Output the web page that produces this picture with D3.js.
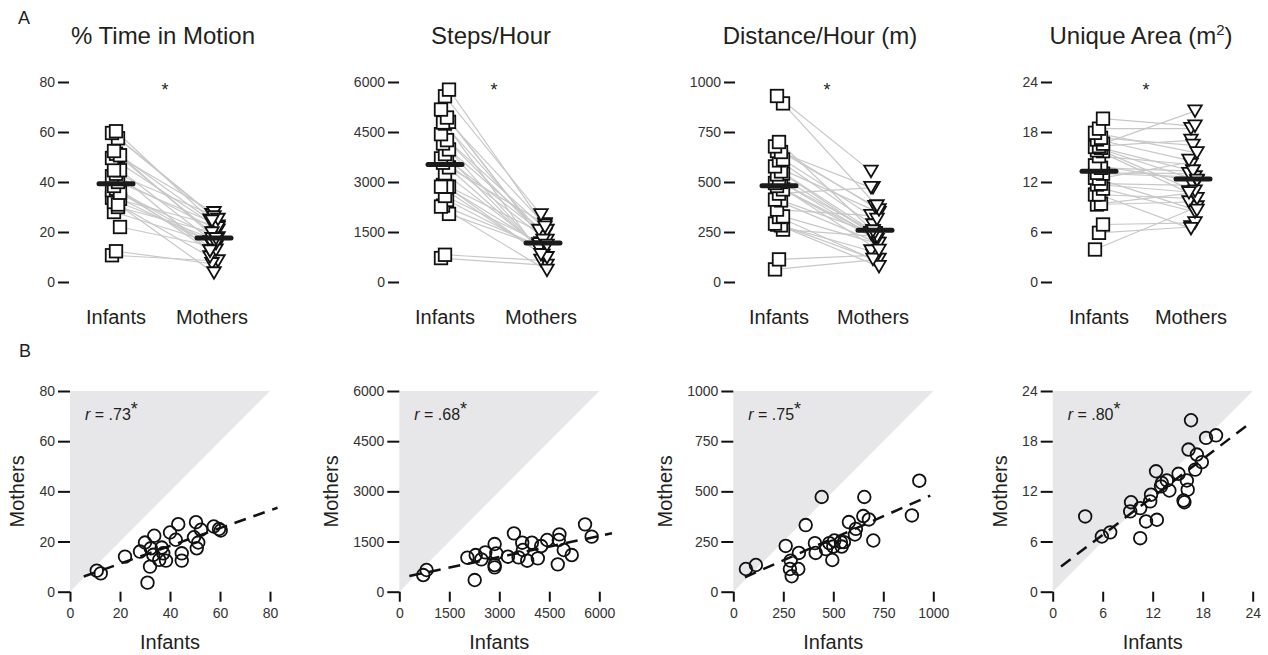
<!DOCTYPE html>
<html><head><meta charset="utf-8">
<script src="https://cdn.jsdelivr.net/npm/d3@7"></script>
<style>
body{margin:0;background:#fff;}
svg{font-family:"Liberation Sans",Arial,sans-serif;display:block;}
</style></head>
<body><svg id="c" width="1268" height="655"></svg>
<script>
// ---------- DATA ----------
const titles = ["% Time in Motion", "Steps/Hour", "Distance/Hour (m)", "Unique Area (m²)"];
const groups = ["Infants", "Mothers"];
const yMax = [80, 6000, 1000, 24];
const tickStep = [20, 1500, 250, 6];
const rLabels = [".73", ".68", ".75", ".80"];

const timeInfants = [10.7,12.3,22,28,30,33.7,32.3,33.3,32,31,36.7,37.3,35.7,38.4,40,42.3,43.3,44.7,44.7,50.4,49.6,51.3,50.7,52.4,57.5,59.6,60.3];
const timeMothers = [8.4,7.3,14,16,19.6,22.3,17.3,14.7,10,3.6,17.6,15.3,12.7,12.4,23.6,20.7,26.9,15.3,12.4,27.7,21.7,19.6,17.3,24.7,26,25,24.4];

const stepsInfants = [718,817,2043,2292,2462,2262,2581,2860,2910,2860,2860,3259,3439,3578,3688,3708,3837,3977,4156,4256,4435,4754,4804,4784,4934,5173,5572,5771];
const stepsMothers = [498,648,1017,1096,967,349,1176,1425,1146,797,728,1046,1744,1027,1465,1246,927,1465,997,1365,1545,817,1714,1545,1246,1096,2013,1645];

const distInfants = [63,113,262,287,283,292,325,328,362,408,412,442,463,480,500,495,505,542,538,553,578,608,613,655,650,678,700,893,930];
const distMothers = [113,133,228,155,113,77,113,193,332,242,193,472,212,242,225,158,255,225,247,247,347,285,313,472,377,360,255,380,553];

const areaInfants = [3.9,5.9,6.9,9.3,9.4,10.5,10.5,11.2,11.7,11.8,12.5,12.4,13,13.1,13.7,14,15.1,15.7,15.8,16.1,16.2,16.3,16.6,17.1,17.3,17.9,18.4,19.6];
const areaMothers = [9.0,6.6,7.1,9.6,10.7,10.0,6.4,8.4,10.8,11.6,8.6,14.4,12.6,13.0,13.3,12.1,14.1,10.9,10.7,13.3,12.2,17.0,20.5,14.6,16.4,15.5,18.4,18.7];

// fitted regression lines: [intercept, slope], x-extent
const fitIntercept = [4.1, 405, 46.5, 2.27];
const fitSlope = [0.354, 0.21, 0.439, 0.755];
const fitFrom = [5.5, 300, 58, 1];
const fitTo = [83, 6380, 985, 23.9];

const infantsAll = [timeInfants, stepsInfants, distInfants, areaInfants];
const mothersAll = [timeMothers, stepsMothers, distMothers, areaMothers];

// ---------- LAYOUT ----------
const topL = [
  {ax:69, sx:116, tx:214, title:163},
  {ax:399, sx:445, tx:543, title:491},
  {ax:735, sx:779, tx:875, title:820},
  {ax:1052, sx:1099, tx:1193, title:1141}
];
const botX0 = [70, 399.3, 733.3, 1052.7];
const topY = [282, 82];
const botY = [591.7, 391];
const textCol = "#231f20";

const svg = d3.select("#c");
const fmt = d3.format("d");

svg.append("text").attr("x",18).attr("y",24).attr("font-size",18).attr("fill",textCol).text("A");
svg.append("text").attr("x",19).attr("y",357).attr("font-size",18).attr("fill",textCol).text("B");

function styleAxis(g){
  g.select(".domain").remove();
  g.selectAll(".tick line").attr("stroke","#111").attr("stroke-width",2);
  g.selectAll(".tick text").attr("font-size",14).attr("fill","#333").attr("font-family","Liberation Sans, Arial, sans-serif");
}

const jit = i => (((i*7)%5) - 2) * 2;

for (let k=0;k<4;k++){
  const L = topL[k];
  const inf = infantsAll[k], mot = mothersAll[k];
  const ticks = d3.range(0, yMax[k]+1e-9, tickStep[k]);
  const y = d3.scaleLinear().domain([0,yMax[k]]).range(topY);
  const xc = d3.scalePoint().domain(groups).range([L.sx, L.tx]);
  const g = svg.append("g");

  // title
  const t = g.append("text").attr("x",L.title).attr("y",44).attr("text-anchor","middle")
    .attr("font-size",24).attr("fill",textCol);
  if (k===3){
    t.append("tspan").text("Unique Area (m");
    t.append("tspan").attr("font-size",15).attr("dy",-9).text("2");
    t.append("tspan").attr("dy",9).text(")");
  } else t.text(titles[k]);

  // axis
  g.append("g").attr("transform",`translate(${L.ax},0)`)
    .call(d3.axisLeft(y).tickValues(ticks).tickFormat(fmt).tickSize(11).tickPadding(3))
    .call(styleAxis);

  // asterisk
  g.append("text").attr("x",(L.sx+L.tx)/2).attr("y",96).attr("text-anchor","middle")
    .attr("font-size",18).attr("fill",textCol).text("*");

  // connecting lines
  g.selectAll("line.pair").data(inf).join("line").attr("class","pair")
    .attr("x1",(d,i)=>xc("Infants")+jit(i)).attr("y1",d=>y(d))
    .attr("x2",(d,i)=>xc("Mothers")+jit(i+2)).attr("y2",(d,i)=>y(mot[i]))
    .attr("stroke","#c8c8c8").attr("stroke-width",1.2);

  // squares
  const s = 12.5;
  g.selectAll("rect.sq").data(inf).join("rect").attr("class","sq")
    .attr("x",(d,i)=>xc("Infants")+jit(i)-s/2).attr("y",d=>y(d)-s/2)
    .attr("width",s).attr("height",s).attr("fill","#fff").attr("stroke","#111").attr("stroke-width",1.8);

  // triangles (down)
  const tw=13.5, th=11.5;
  g.selectAll("path.tri").data(mot).join("path").attr("class","tri")
    .attr("d",(d,i)=>{const cx=xc("Mothers")+jit(i+2), cy=y(d);
      return `M${cx-tw/2},${cy-th/2}L${cx+tw/2},${cy-th/2}L${cx},${cy+th/2}Z`;})
    .attr("fill","#fff").attr("stroke","#111").attr("stroke-width",1.8).attr("stroke-linejoin","miter");

  // mean bars
  [[ "Infants", d3.mean(inf)], ["Mothers", d3.mean(mot)]].forEach(([grp,m])=>{
    g.append("line").attr("x1",xc(grp)-17).attr("x2",xc(grp)+17).attr("y1",y(m)).attr("y2",y(m))
      .attr("stroke","#1a1a1a").attr("stroke-width",5).attr("stroke-linecap","round");
  });

  // category labels
  groups.forEach(grp=>{
    g.append("text").attr("x",xc(grp)+(grp==="Infants"?0:-2)).attr("y",324).attr("text-anchor","middle")
      .attr("font-size",20).attr("fill",textCol).text(grp);
  });

  // ---------- bottom scatter ----------
  const x0 = botX0[k];
  const bx = d3.scaleLinear().domain([0,yMax[k]]).range([x0, x0+200]);
  const by = d3.scaleLinear().domain([0,yMax[k]]).range(botY);
  const b = svg.append("g");

  b.append("path").attr("d",`M${bx(0)},${by(0)}L${bx(0)},${by(yMax[k])}L${bx(yMax[k])},${by(yMax[k])}Z`)
    .attr("fill","#e7e7e9");

  const ya = b.append("g").attr("transform",`translate(${x0},0)`)
    .call(d3.axisLeft(by).tickValues(ticks).tickFormat(fmt).tickSize(12).tickPadding(3))
    .call(styleAxis);
  b.append("g").attr("transform",`translate(0,${botY[0]})`)
    .call(d3.axisBottom(bx).tickValues(ticks).tickFormat(fmt).tickSize(10).tickPadding(6))
    .call(styleAxis);

  // y label positioned from tick label extent
  let minLeft = Infinity;
  ya.selectAll(".tick text").each(function(){const bb=this.getBBox(); minLeft=Math.min(minLeft, x0+bb.x);});
  b.append("text").attr("transform",`translate(${minLeft-15},${(botY[0]+botY[1])/2}) rotate(-90)`)
    .attr("text-anchor","middle").attr("font-size",20).attr("fill",textCol).text("Mothers");
  b.append("text").attr("x",x0+100).attr("y",649).attr("text-anchor","middle")
    .attr("font-size",20).attr("fill",textCol).text("Infants");

  // r label
  const rt = b.append("text").attr("x",x0+15).attr("y",420).attr("font-size",16).attr("fill",textCol);
  rt.append("tspan").attr("font-style","italic").text("r");
  rt.append("tspan").text(" = " + rLabels[k]);
  rt.append("tspan").attr("dy",-5).attr("font-size",18).text("*");

  // regression line
  b.append("line")
    .attr("x1",bx(fitFrom[k])).attr("y1",by(fitIntercept[k]+fitSlope[k]*fitFrom[k]))
    .attr("x2",bx(fitTo[k])).attr("y2",by(fitIntercept[k]+fitSlope[k]*fitTo[k]))
    .attr("stroke","#111").attr("stroke-width",2.5).attr("stroke-dasharray","12,8");

  // circles
  b.selectAll("circle").data(inf).join("circle")
    .attr("cx",d=>bx(d)).attr("cy",(d,i)=>by(mot[i])).attr("r",6.3)
    .attr("fill","none").attr("stroke","#111").attr("stroke-width",1.8);
}
</script></body></html>
